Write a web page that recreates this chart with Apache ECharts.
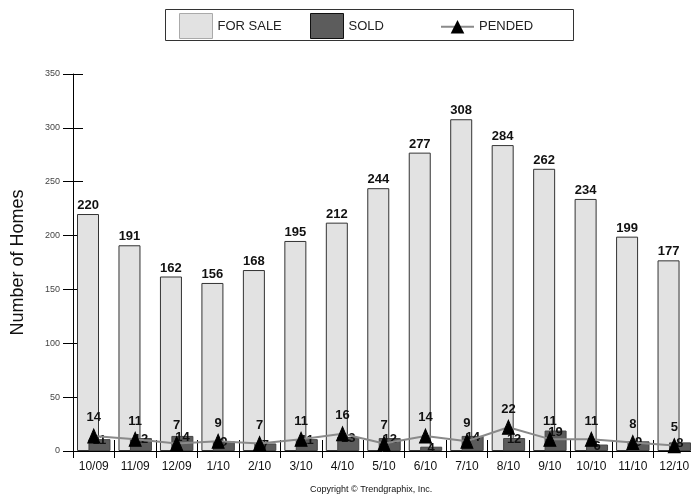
<!DOCTYPE html>
<html>
<head>
<meta charset="utf-8">
<script src="https://cdn.jsdelivr.net/npm/echarts@6/dist/echarts.min.js"></script>
<style>html,body{margin:0;padding:0;background:#fff}#c{width:691px;height:499px}</style>
</head>
<body>
<div id="c"></div>
<script>
const categories = ['10/09','11/09','12/09','1/10','2/10','3/10','4/10','5/10','6/10','7/10','8/10','9/10','10/10','11/10','12/10'];
const forSale = [220,191,162,156,168,195,212,244,277,308,284,262,234,199,177];
const sold = [11,12,14,9,7,11,13,12,4,14,12,19,6,9,8];
const pended = [14,11,7,9,7,11,16,7,14,9,22,11,11,8,5];
const yTicks = [0,50,100,150,200,250,300,350];

const FONT = '"Liberation Sans", Arial, sans-serif';
const chart = echarts.init(document.getElementById('c'), null, {renderer:'canvas'});
const legendText = {fontFamily:FONT, fontSize:13, color:'#222'};
chart.setOption({
  animation:false,
  textStyle:{fontFamily:FONT},
  grid:{left:73, right:-4, top:74, bottom:48, containLabel:false, outerBoundsMode:'none'},
  legend:[
    {left:179, top:13, padding:0, itemWidth:33, itemHeight:25, itemGap:0, textStyle:legendText,
     itemStyle:{borderColor:'#aaa', borderWidth:1},
     data:[{name:'FOR SALE', icon:'rect'}]},
    {left:310, top:13, padding:0, itemWidth:33, itemHeight:25, itemGap:0, textStyle:legendText,
     itemStyle:{borderColor:'#111', borderWidth:1},
     data:[{name:'SOLD', icon:'rect'}]},
    {left:440, top:20, padding:0, itemWidth:33, itemHeight:17, itemGap:0, textStyle:legendText,
     data:[{name:'PENDED'}]}
  ],
  xAxis:[{
    type:'category', data:categories, boundaryGap:true,
    axisLine:{show:true, lineStyle:{color:'#000', width:1}},
    axisTick:{show:true, inside:false, length:7, lineStyle:{color:'#000'}},
    axisLabel:{fontFamily:FONT, fontSize:12, color:'#111', margin:10, interval:0},
    splitLine:{show:false}
  },{
    type:'category', data:categories, boundaryGap:true, position:'bottom',
    axisLine:{show:false},
    axisTick:{show:true, inside:true, length:11, lineStyle:{color:'#000'}},
    axisLabel:{show:false}, splitLine:{show:false}
  }],
  yAxis:[{
    type:'value', min:yTicks[0], max:yTicks[yTicks.length-1], interval:50,
    name:'Number of Homes', nameLocation:'middle', nameGap:46, nameRotate:90,
    nameTextStyle:{fontFamily:FONT, fontSize:18, color:'#111'},
    axisLine:{show:true, lineStyle:{color:'#000', width:1}},
    axisTick:{show:true, inside:false, length:10, lineStyle:{color:'#000'}},
    axisLabel:{fontFamily:FONT, fontSize:9, color:'#444', margin:13},
    splitLine:{show:false}
  },{
    type:'value', min:yTicks[0], max:yTicks[yTicks.length-1], interval:50, position:'left',
    axisLine:{show:false},
    axisTick:{show:true, inside:true, length:10, lineStyle:{color:'#000'}},
    axisLabel:{show:false}, splitLine:{show:false}
  }],
  series:[
    {
      name:'FOR SALE', type:'bar', data:forSale, barWidth:22, barGap:'-48%', z:2,
      itemStyle:{color:'#e2e2e2', borderColor:'#333', borderWidth:1},
      label:{show:true, position:'top', distance:2, fontFamily:FONT, fontSize:13, fontWeight:'bold', color:'#111'}
    },
    {
      name:'SOLD', type:'bar', data:sold, barWidth:22, z:3,
      itemStyle:{color:'#5c5c5c', borderColor:'#444', borderWidth:1},
      label:{show:true, position:'top', distance:-8, fontFamily:FONT, fontSize:13, fontWeight:'bold', color:'#111'}
    },
    {
      name:'PENDED', type:'line', data:pended, z:6,
      symbol:'triangle', symbolSize:[12,14], showAllSymbol:true,
      lineStyle:{color:'#8a8a8a', width:2},
      itemStyle:{color:'#000', borderColor:'#000'},
      label:{show:true, position:'top', distance:4, fontFamily:FONT, fontSize:13, fontWeight:'bold', color:'#111'}
    }
  ],
  graphic:[
    {type:'rect', left:165, top:9, z:-1, silent:true,
     shape:{width:408, height:31}, style:{fill:'#fff', stroke:'#333', lineWidth:1}},
    {type:'text', left:310, top:485,
     style:{text:'Copyright \u00A9 Trendgraphix, Inc.', fontFamily:FONT, fontSize:9, fill:'#111'}}
  ]
});
</script>
</body>
</html>
